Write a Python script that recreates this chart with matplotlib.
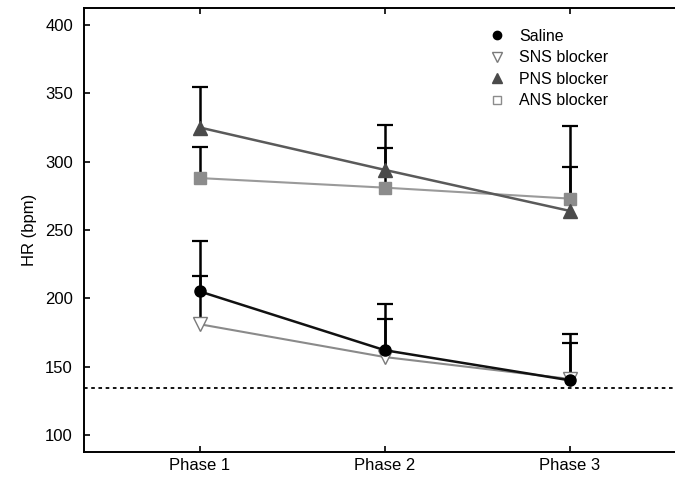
import matplotlib
matplotlib.use("Agg")
import matplotlib.pyplot as plt
from matplotlib.lines import Line2D

plt.rcParams['font.family'] = ['Liberation Sans', 'DejaVu Sans']

phases = ["Phase 1", "Phase 2", "Phase 3"]
saline = [205, 162, 140]
saline_up = [37, 34, 34]
sns_blk = [181, 157, 141]
sns_up = [35, 28, 26]
pns_blk = [325, 294, 264]
pns_up = [30, 33, 32]
ans_blk = [288, 281, 273]
ans_up = [23, 29, 53]
baseline = 134

x = [1, 2, 3]

fig = plt.figure(figsize=(6.75, 4.82), dpi=100)
ax = fig.add_axes([84/675, 30/482, 1 - 84/675, 444/482])

series = [
    (sns_blk, sns_up, dict(color='#8a8a8a', marker='v', mfc='white', mec='#7a7a7a', ms=10, lw=1.5, zorder=3)),
    (ans_blk, ans_up, dict(color='#9a9a9a', marker='s', mfc='#8c8c8c', mec='#8c8c8c', ms=8, lw=1.5, zorder=3)),
    (pns_blk, pns_up, dict(color='#5a5a5a', marker='^', mfc='#4a4a4a', mec='#4a4a4a', ms=10, lw=1.8, zorder=4)),
    (saline, saline_up, dict(color='#111111', marker='o', mfc='black', mec='black', ms=8, lw=1.8, zorder=5)),
]
for vals, up, st in series:
    tops = [v + u for v, u in zip(vals, up)]
    ax.vlines(x, vals, tops, colors='black', lw=1.8, zorder=2)
    ax.plot(x, tops, ls='none', marker='_', ms=12, mew=1.6, color='black', zorder=2)
for vals, up, st in series:
    ax.plot(x, vals, **st)

ax.axhline(baseline, color='black', ls=(0, (2, 2)), lw=1.3, zorder=1)

ax.set_xlim(0.373, 3.57)
ax.set_ylim(87.5, 412.5)
ax.set_yticks([100, 150, 200, 250, 300, 350, 400])
ax.set_xticks(x)
ax.set_xticklabels(phases)
ax.tick_params(axis='both', direction='in', labelsize=12, length=4, width=1.2, top=True)
ax.tick_params(axis='x', pad=4)
ax.tick_params(axis='y', pad=8)
ax.spines['right'].set_visible(False)
for s in ['left', 'bottom', 'top']:
    ax.spines[s].set_linewidth(1.4)
ax.set_ylabel("HR (bpm)", fontsize=12, labelpad=6)

handles = [
    Line2D([], [], ls='none', marker='o', mfc='black', mec='black', ms=6),
    Line2D([], [], ls='none', marker='v', mfc='white', mec='#7a7a7a', ms=7),
    Line2D([], [], ls='none', marker='^', mfc='#4a4a4a', mec='#4a4a4a', ms=7),
    Line2D([], [], ls='none', marker='s', mfc='white', mec='#8c8c8c', ms=6),
]
ax.legend(handles, ["Saline", "SNS blocker", "PNS blocker", "ANS blocker"], frameon=False,
          fontsize=11.5, loc='upper left', bbox_to_anchor=(0.655, 0.985), handletextpad=0.6,
          labelspacing=0.4, handlelength=1.5)

fig.savefig("out.png", dpi=100)
